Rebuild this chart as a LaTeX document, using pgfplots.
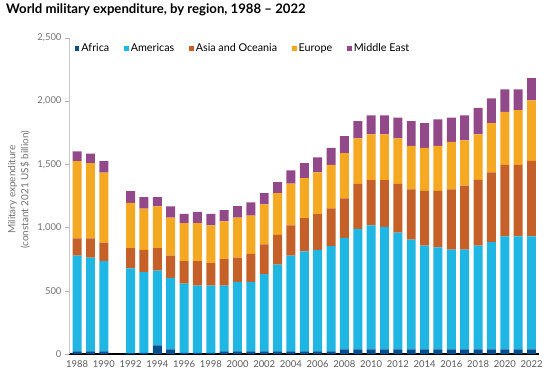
\documentclass[border=0pt]{standalone}
\usepackage{fontspec}
\setmainfont{Lato}
\usepackage{pgfplots}
\usepackage{pgfplotstable}
\pgfplotsset{compat=1.18}
\definecolor{cAf}{RGB}{8,78,138}
\definecolor{cAm}{RGB}{31,182,228}
\definecolor{cAs}{RGB}{196,96,40}
\definecolor{cEu}{RGB}{245,168,34}
\definecolor{cME}{RGB}{146,73,137}
\pgfplotstableread{
year Af Am As Eu ME
1988 20 759 135 612 77
1989 20 743 151 596 75
1990 20 714 148 552 92
1992 6 672 159 359 92
1993 8 639 177 327 90
1994 69 591 177 330 74
1995 37 565 177 299 89
1996 8 549 177 301 74
1997 8 533 193 301 90
1998 8 533 178 298 92
1999 20 521 210 298 89
2000 20 551 192 315 92
2001 20 551 221 302 105
2002 20 611 237 315 90
2003 20 688 235 330 87
2004 20 759 238 330 105
2005 20 791 263 317 119
2006 20 804 282 330 119
2007 20 834 299 343 135
2008 37 881 314 357 134
2009 37 952 357 359 137
2010 37 981 357 362 150
2011 37 968 370 362 150
2012 37 923 386 359 166
2013 37 868 398 344 195
2014 37 820 433 341 195
2015 37 807 446 357 209
2016 37 788 478 375 193
2017 37 788 507 359 196
2018 37 820 520 360 211
2019 37 849 550 390 196
2020 37 894 565 420 177
2021 37 894 565 433 164
2022 37 894 597 478 177
}\data
\begin{document}
\begin{tikzpicture}
\begin{axis}[
  at={(0,0)}, anchor=south west,
  scale only axis, width=470bp, height=316bp,
  xmin=1987.39, xmax=2022.56, ymin=0, ymax=2500,
  ybar stacked, bar width=0.67,
  axis x line*=bottom, axis y line*=left,
  x axis line style={-, black, line width=1.2pt},
  y axis line style={-, black!22, line width=0.6pt},
  xtick={1988,1990,...,2022},
  ytick={0,500,...,2500},
  xtick style={draw=none},
  ytick style={black!30, line width=0.5pt},
  tick align=outside, major tick length=4bp,
  /pgf/number format/assume math mode=true,
  x tick label style={/pgf/number format/1000 sep={}, font=\fontsize{9.5}{11}\selectfont, text=black!65, yshift=1bp},
  y tick label style={/pgf/number format/1000 sep={,}, font=\fontsize{9.5}{11}\selectfont, text=black!55},
  ylabel={Military expenditure\\(constant 2021 US\$ billion)},
  every axis y label/.style={at={(rel axis cs:0,0.52)}, xshift=-50bp, rotate=90, anchor=center, align=center, font=\fontsize{10}{13}\selectfont, text=black!55},
  legend columns=-1,
  legend style={at={(rel axis cs:0.012,1)}, anchor=north west, yshift=-3.5bp, draw=none, fill=none, font=\fontsize{10.8}{13}\selectfont, inner sep=0pt,
    /tikz/every even column/.append style={column sep=13bp}},
  legend image code/.code={\fill[#1] (0bp,-2.3bp) rectangle (4.6bp,2.3bp);},
  enlargelimits=false,
]
\addplot[fill=cAf, draw=none] table[x=year, y=Af] {\data};
\addplot[fill=cAm, draw=none] table[x=year, y=Am] {\data};
\addplot[fill=cAs, draw=none] table[x=year, y=As] {\data};
\addplot[fill=cEu, draw=none] table[x=year, y=Eu] {\data};
\addplot[fill=cME, draw=none] table[x=year, y=ME] {\data};
\legend{Africa, Americas, Asia and Oceania, Europe, Middle East}
\end{axis}
\node[anchor=north west, inner sep=0pt, font=\fontsize{13.2}{15}\selectfont\bfseries] at (-63bp,350bp) {World military expenditure, by region, 1988 -- 2022};
\pgfresetboundingbox
\path[use as bounding box] (-69bp,-33bp) rectangle (490bp,354bp);
\end{tikzpicture}
\end{document}
